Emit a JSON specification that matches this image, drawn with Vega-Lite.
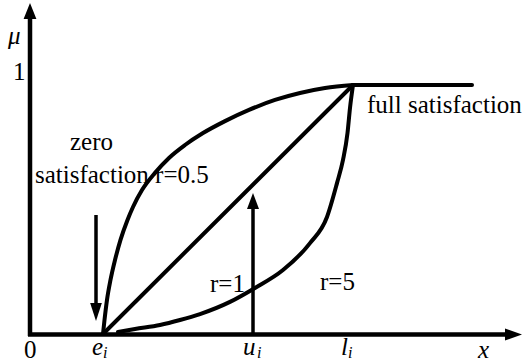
{
  "$schema": "https://vega.github.io/schema/vega-lite/v6.json",
  "width": 528,
  "height": 364,
  "padding": 0,
  "autosize": {"type": "none"},
  "background": "white",
  "config": {"view": {"stroke": null}},
  "datasets": {
    "curves": [
      {"curve": "r=0.5", "x": 7.3, "mu": 0.0},
      {"curve": "r=0.5", "x": 7.45, "mu": 0.056},
      {"curve": "r=0.5", "x": 7.7, "mu": 0.137},
      {"curve": "r=0.5", "x": 8.05, "mu": 0.217},
      {"curve": "r=0.5", "x": 8.5, "mu": 0.297},
      {"curve": "r=0.5", "x": 9.05, "mu": 0.378},
      {"curve": "r=0.5", "x": 9.75, "mu": 0.458},
      {"curve": "r=0.5", "x": 10.3, "mu": 0.51},
      {"curve": "r=0.5", "x": 11.2, "mu": 0.578},
      {"curve": "r=0.5", "x": 12.5, "mu": 0.647},
      {"curve": "r=0.5", "x": 13.9, "mu": 0.707},
      {"curve": "r=0.5", "x": 15.5, "mu": 0.759},
      {"curve": "r=0.5", "x": 17.3, "mu": 0.807},
      {"curve": "r=0.5", "x": 19.5, "mu": 0.855},
      {"curve": "r=0.5", "x": 21.9, "mu": 0.9},
      {"curve": "r=0.5", "x": 24.5, "mu": 0.94},
      {"curve": "r=0.5", "x": 27.0, "mu": 0.968},
      {"curve": "r=0.5", "x": 29.5, "mu": 0.988},
      {"curve": "r=0.5", "x": 32.3, "mu": 1.0},
      {"curve": "r=1", "x": 7.3, "mu": 0.0},
      {"curve": "r=1", "x": 32.3, "mu": 1.0},
      {"curve": "r=5", "x": 8.8, "mu": 0.008},
      {"curve": "r=5", "x": 10.5, "mu": 0.02},
      {"curve": "r=5", "x": 13.0, "mu": 0.036},
      {"curve": "r=5", "x": 15.0, "mu": 0.056},
      {"curve": "r=5", "x": 17.0, "mu": 0.08},
      {"curve": "r=5", "x": 20.0, "mu": 0.129},
      {"curve": "r=5", "x": 22.5, "mu": 0.185},
      {"curve": "r=5", "x": 25.3, "mu": 0.257},
      {"curve": "r=5", "x": 28.0, "mu": 0.365},
      {"curve": "r=5", "x": 29.7, "mu": 0.47},
      {"curve": "r=5", "x": 30.7, "mu": 0.606},
      {"curve": "r=5", "x": 31.3, "mu": 0.699},
      {"curve": "r=5", "x": 31.75, "mu": 0.807},
      {"curve": "r=5", "x": 32.0, "mu": 0.908},
      {"curve": "r=5", "x": 32.3, "mu": 1.0},
      {"curve": "full", "x": 32.3, "mu": 1.0},
      {"curve": "full", "x": 44.2, "mu": 1.0}
    ],
    "shafts": [
      {"kind": "axis", "name": "mu-axis", "x": 0, "mu": -0.008, "x2": 0, "mu2": 1.28},
      {"kind": "axis", "name": "x-axis", "x": -0.2, "mu": -0.002, "x2": 47.7, "mu2": -0.002},
      {"kind": "pointer", "name": "zero", "x": 6.6, "mu": 0.478, "x2": 6.6, "mu2": 0.11},
      {"kind": "pointer", "name": "u", "x": 22.3, "mu": 0.0, "x2": 22.3, "mu2": 0.52}
    ],
    "heads": [
      {"dir": "axis-up", "x": 0, "mu": 1.297},
      {"dir": "axis-right", "x": 48.35, "mu": -0.002},
      {"dir": "down", "x": 6.6, "mu": 0.088},
      {"dir": "up", "x": 22.3, "mu": 0.534}
    ],
    "labels": [
      {"style": "roman", "text": "zero", "x": 4.0, "mu": 0.739},
      {"style": "roman", "text": "satisfaction r=0.5", "x": 0.5, "mu": 0.606},
      {"style": "roman", "text": "r=1", "x": 18.0, "mu": 0.169},
      {"style": "roman", "text": "r=5", "x": 29.0, "mu": 0.177},
      {"style": "roman", "text": "full satisfaction", "x": 33.7, "mu": 0.888},
      {"style": "roman", "text": "1", "x": -1.7, "mu": 1.02},
      {"style": "roman", "text": "0", "x": -0.6, "mu": -0.096},
      {"style": "italic", "text": "μ", "x": -2.2, "mu": 1.165},
      {"style": "italic", "text": "e", "x": 6.2, "mu": -0.084},
      {"style": "italic", "text": "u", "x": 21.3, "mu": -0.084},
      {"style": "italic", "text": "l", "x": 31.1, "mu": -0.084},
      {"style": "italic", "text": "x", "x": 44.8, "mu": -0.096},
      {"style": "sub", "text": "i", "x": 7.3, "mu": -0.096},
      {"style": "sub", "text": "i", "x": 22.7, "mu": -0.096},
      {"style": "sub", "text": "i", "x": 31.8, "mu": -0.096}
    ]
  },
  "encoding": {
    "x": {"field": "x", "type": "quantitative", "scale": {"domain": [-3, 49.8], "nice": false, "zero": false}, "axis": null},
    "y": {"field": "mu", "type": "quantitative", "scale": {"domain": [-0.1205, 1.3414], "nice": false, "zero": false}, "axis": null}
  },
  "layer": [
    {
      "data": {"name": "curves"},
      "mark": {"type": "line", "color": "black", "strokeWidth": 4, "strokeCap": "round", "strokeJoin": "round", "interpolate": "monotone"},
      "encoding": {"detail": {"field": "curve"}}
    },
    {
      "data": {"name": "shafts"},
      "transform": [{"filter": "datum.kind === 'axis'"}],
      "mark": {"type": "rule", "color": "black", "strokeWidth": 4.5},
      "encoding": {"x2": {"field": "x2"}, "y2": {"field": "mu2"}}
    },
    {
      "data": {"name": "shafts"},
      "transform": [{"filter": "datum.kind === 'pointer'"}],
      "mark": {"type": "rule", "color": "black", "strokeWidth": 3.5},
      "encoding": {"x2": {"field": "x2"}, "y2": {"field": "mu2"}}
    },
    {
      "data": {"name": "heads"},
      "transform": [{"filter": "datum.dir === 'axis-up'"}],
      "mark": {"type": "point", "filled": true, "color": "black", "opacity": 1, "shape": "M0,-1L0.8,1L-0.8,1Z", "size": 256}
    },
    {
      "data": {"name": "heads"},
      "transform": [{"filter": "datum.dir === 'axis-right'"}],
      "mark": {"type": "point", "filled": true, "color": "black", "opacity": 1, "shape": "M1,0L-1,0.7L-1,-0.7Z", "size": 289}
    },
    {
      "data": {"name": "heads"},
      "transform": [{"filter": "datum.dir === 'down'"}],
      "mark": {"type": "point", "filled": true, "color": "black", "opacity": 1, "shape": "M0,1L0.65,-1L-0.65,-1Z", "size": 324}
    },
    {
      "data": {"name": "heads"},
      "transform": [{"filter": "datum.dir === 'up'"}],
      "mark": {"type": "point", "filled": true, "color": "black", "opacity": 1, "shape": "M0,-1L0.75,1L-0.75,1Z", "size": 256}
    },
    {
      "data": {"name": "labels"},
      "transform": [{"filter": "datum.style === 'roman'"}],
      "mark": {"type": "text", "font": "Liberation Serif", "fontSize": 25, "align": "left", "baseline": "alphabetic", "color": "black"},
      "encoding": {"text": {"field": "text"}}
    },
    {
      "data": {"name": "labels"},
      "transform": [{"filter": "datum.style === 'italic'"}],
      "mark": {"type": "text", "font": "Liberation Serif", "fontSize": 25, "fontStyle": "italic", "align": "left", "baseline": "alphabetic", "color": "black"},
      "encoding": {"text": {"field": "text"}}
    },
    {
      "data": {"name": "labels"},
      "transform": [{"filter": "datum.style === 'sub'"}],
      "mark": {"type": "text", "font": "Liberation Serif", "fontSize": 16, "fontStyle": "italic", "align": "left", "baseline": "alphabetic", "color": "black"},
      "encoding": {"text": {"field": "text"}}
    }
  ]
}
